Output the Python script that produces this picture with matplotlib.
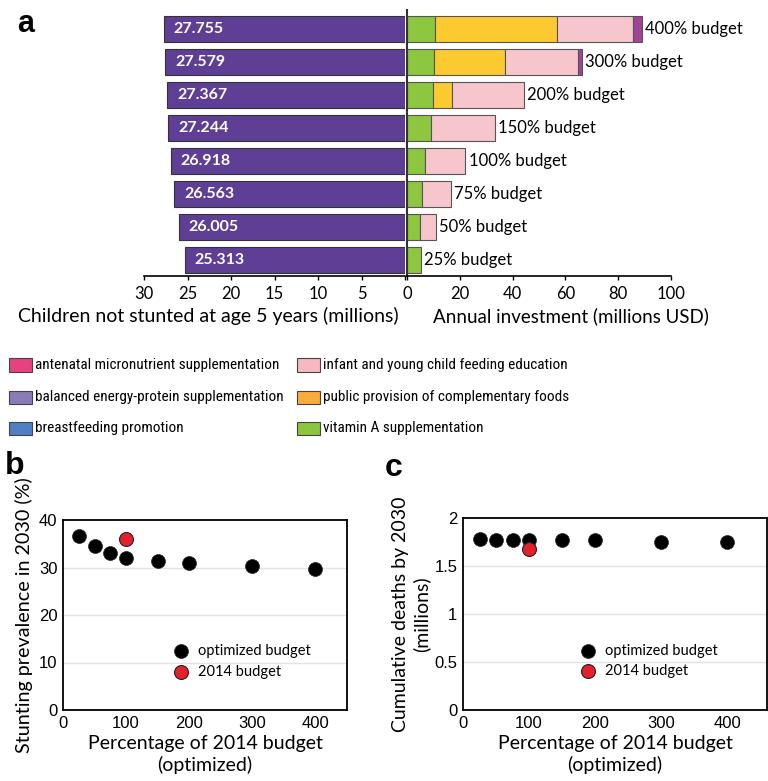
import matplotlib
matplotlib.use('Agg')
import matplotlib.pyplot as plt
from matplotlib.patches import Rectangle
import numpy as np

# ---------------- data ----------------
budgets = ['25%', '50%', '75%', '100%', '150%', '200%', '300%', '400%']
not_stunted = [25.313, 26.005, 26.563, 26.918, 27.244, 27.367, 27.579, 27.755]
vit_a = [5.4, 4.9, 5.8, 6.9, 9.1, 9.8, 10.2, 10.5]
comp_foods = [0, 0, 0, 0, 0, 7.2, 26.9, 46.2]
iycf = [0, 6.2, 10.7, 15.2, 24.2, 27.4, 27.7, 28.9]
antenatal = [0, 0, 0, 0, 0, 0, 1.6, 3.3]

pct = [25, 50, 75, 100, 150, 200, 300, 400]
stunting_opt = [36.7, 34.5, 33.1, 32.1, 31.4, 31.0, 30.4, 29.7]
pct_2014 = [100]
stunting_2014 = [35.9]
deaths_opt = [1.78, 1.77, 1.77, 1.77, 1.77, 1.77, 1.75, 1.75]
deaths_2014 = [1.68]

legend_labels = ['antenatal micronutrient supplementation',
                 'balanced energy-protein supplementation',
                 'breastfeeding promotion',
                 'infant and young child feeding education',
                 'public provision of complementary foods',
                 'vitamin A supplementation']
legend_colors = ['#e8417f', '#8b7ab8', '#4f7fc4', '#f6b9c1', '#f9ab3c', '#8cc63f']

# ---------------- style ----------------
FONT = ['Lato', 'DejaVu Sans']
plt.rcParams['font.family'] = FONT
PURPLE = '#5e3f95'
GREEN = '#8dc63f'
YELLOW = '#fdc931'
PINK = '#f7c6cc'
MAGENTA = '#a2439a'
EDGE = '#555555'

W, H = 768, 781
fig = plt.figure(figsize=(W / 100, H / 100), dpi=100)


def rect(x0, y0, x1, y1):
    return [x0 / W, 1 - y1 / H, (x1 - x0) / W, (y1 - y0) / H]


def fx(x):
    return x / W


def fy(y):
    return 1 - y / H


ypos = np.arange(len(budgets))

# ---------------- panel a, left ----------------
axL = fig.add_axes(rect(144, 10, 405, 276))
axL.barh(ypos, not_stunted, height=0.8, color=PURPLE, edgecolor='#333333', lw=0.8)
axL.set_xlim(30, 0)
axL.set_ylim(-0.485, 7.58)
for s in ['top', 'left', 'right']:
    axL.spines[s].set_visible(False)
axL.spines['bottom'].set_linewidth(1.2)
axL.set_yticks([])
xt = list(range(0, 31, 5))
axL.set_xticks(xt)
axL.set_xticklabels([str(t) if t != 0 else '' for t in xt])
axL.tick_params(axis='x', labelsize=12, length=3, width=1, pad=4)
for yi, v in zip(ypos, not_stunted):
    axL.text(v - 1.15, yi, f'{v:.3f}', ha='left', va='center', color='white',
             fontsize=11.5, fontweight='bold')

# ---------------- panel a, right ----------------
axR = fig.add_axes(rect(407, 10, 671, 276))
left = np.zeros(len(budgets))
for vals, col in [(vit_a, GREEN), (comp_foods, YELLOW), (iycf, PINK), (antenatal, MAGENTA)]:
    vals = np.array(vals, dtype=float)
    idx = vals > 0
    axR.barh(ypos[idx], vals[idx], left=left[idx], height=0.8, color=col,
             edgecolor=EDGE, lw=0.8)
    left += vals
for yi, tot, b in zip(ypos, left, budgets):
    axR.text(tot + 1.2, yi, f'{b} budget', ha='left', va='center', fontsize=12)
axR.set_xlim(0, 100)
axR.set_ylim(-0.485, 7.58)
for s in ['top', 'right']:
    axR.spines[s].set_visible(False)
axR.spines['bottom'].set_linewidth(1.2)
axR.spines['left'].set_linewidth(1.5)
axR.spines['left'].set_color('#333333')
axR.set_yticks([])
axR.set_xticks(range(0, 101, 20))
axR.tick_params(axis='x', labelsize=12, length=3, width=1, pad=4)

fig.text(fx(399), fy(316), 'Children not stunted at age 5 years (millions)',
         ha='right', va='center', fontsize=14)
fig.text(fx(433), fy(316), 'Annual investment (millions USD)',
         ha='left', va='center', fontsize=13.5)

fig.text(fx(17), fy(24), 'a', fontsize=22, fontweight='bold',
         family=['Liberation Sans', 'DejaVu Sans'], ha='left', va='center')

# ---------------- legend ----------------
rows = [365, 397, 428]
cols = [(9, 35), (297, 323)]
for i, (lab, col) in enumerate(zip(legend_labels, legend_colors)):
    c = cols[i // 3]
    r = rows[i % 3]
    fig.add_artist(Rectangle((fx(c[0]), fy(r + 6.5)), fx(23), 13 / H,
                             transform=fig.transFigure, facecolor=col,
                             edgecolor='#444444', lw=0.8))
    fig.text(fx(c[1]), fy(r), lab, ha='left', va='center', fontsize=11,
             family=['Liberation Sans Narrow', 'Roboto Condensed', 'Lato', 'DejaVu Sans'])


# ---------------- panels b and c ----------------
def scatter_panel(ax, yopt, y2014, ylim, yticks, yticklabels, xlim):
    for t in yticks[1:-1]:
        ax.axhline(t, color='#e3e3e3', lw=1, zorder=0)
    ax.scatter(pct, yopt, s=100, color='black', edgecolor='#222222', lw=0.5, zorder=3,
               label='optimized budget')
    ax.scatter(pct_2014, y2014, s=100, color='#e3212b', edgecolor='#222222', lw=0.8,
               zorder=4, label='2014 budget')
    ax.set_xlim(*xlim)
    ax.set_ylim(*ylim)
    ax.set_xticks([0, 100, 200, 300, 400])
    ax.set_yticks(yticks)
    ax.set_yticklabels(yticklabels)
    ax.tick_params(labelsize=12, length=0, pad=4)
    for lab in ax.get_xticklabels() + ax.get_yticklabels():
        lab.set_family(['Liberation Sans', 'DejaVu Sans'])
    for s in ax.spines.values():
        s.set_linewidth(1.3)
    ax.set_xlabel('Percentage of 2014 budget\n(optimized)', fontsize=14, labelpad=3,
                  linespacing=1.25)
    ax.legend(loc='center left', bbox_to_anchor=(0.34, 0.255), frameon=False,
              fontsize=10.5, handletextpad=0.15, labelspacing=0.45, borderpad=0,
              markerscale=1.0)


axB = fig.add_axes(rect(63, 520, 347, 710))
scatter_panel(axB, stunting_opt, stunting_2014, (0, 40), [0, 10, 20, 30, 40],
              ['0', '10', '20', '30', '40'], (0, 450))
axB.set_ylabel('Stunting prevalence in 2030 (%)', fontsize=14.2)
axB.yaxis.set_label_coords((33 - 63) / 284, 0.5)

axC = fig.add_axes(rect(463, 518, 767, 710))
scatter_panel(axC, deaths_opt, deaths_2014, (0, 2), [0, 0.5, 1, 1.5, 2],
              ['0', '0.5', '1', '1.5', '2'], (0, 460))
axC.set_ylabel('Cumulative deaths by 2030\n(millions)', fontsize=14, linespacing=1.2)
axC.yaxis.set_label_coords((430 - 463) / 304, 0.5)

fig.text(fx(5), fy(466), 'b', fontsize=23, fontweight='bold',
         family=['Liberation Sans', 'DejaVu Sans'], ha='left', va='center')
fig.text(fx(385), fy(468), 'c', fontsize=23, fontweight='bold',
         family=['Liberation Sans', 'DejaVu Sans'], ha='left', va='center')

fig.savefig('out.png', dpi=100)
